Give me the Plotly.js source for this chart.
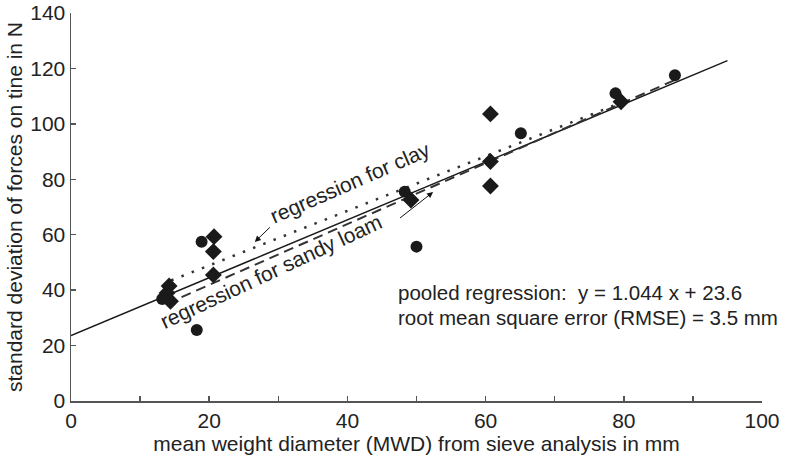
<!DOCTYPE html>
<html>
<head>
<meta charset="utf-8">
<script src="https://cdn.plot.ly/plotly-3.0.1.min.js"></script>
<style>html,body{margin:0;padding:0;background:#fff;}</style>
</head>
<body>
<div id="chart" style="width:796px;height:461px;"></div>
<script>
// Data
const circleX = [13.2, 18.2, 18.9, 48.3, 50.0, 65.1, 78.8, 87.4];
const circleY = [36.8, 25.6, 57.5, 75.5, 55.7, 96.6, 111.0, 117.5];
const diamondX = [14.2, 13.9, 14.4, 20.7, 20.6, 20.6, 49.2, 60.7, 60.7, 60.7, 79.6];
const diamondY = [41.5, 39.0, 36.0, 59.3, 53.9, 45.5, 72.5, 103.6, 86.4, 77.6, 108.0];

// Regression lines (end points)
const pooledX = [0, 95];
const pooledY = [23.6, 122.8];
const clayX = [14.5, 80];
const clayY = [43.5, 108];
const sandyX = [16, 88];
const sandyY = [37.5, 116.5];

const xTicks = [0, 20, 40, 60, 80, 100];
const yTicks = [0, 20, 40, 60, 80, 100, 120, 140];

const FONT = 'Liberation Sans, Arial, Helvetica, sans-serif';
const FS = 21;
const ink = '#1a1a1a';
const txt = '#222';

const traces = [
  {x: pooledX, y: pooledY, mode: 'lines', line: {color: ink, width: 1.5}, hoverinfo: 'skip'},
  {x: clayX, y: clayY, mode: 'lines', line: {color: '#333', width: 2.5, dash: '2.5px,8.5px'}, hoverinfo: 'skip'},
  {x: sandyX, y: sandyY, mode: 'lines', line: {color: '#333', width: 2, dash: '10px,6px'}, hoverinfo: 'skip'},
  {x: circleX, y: circleY, mode: 'markers', marker: {symbol: 'circle', size: 12, color: ink}},
  {x: diamondX, y: diamondY, mode: 'markers', marker: {symbol: 'diamond', size: 13, color: ink}}
];

const layout = {
  width: 796, height: 461,
  margin: {l: 71, r: 34, t: 13, b: 60},
  paper_bgcolor: '#fff', plot_bgcolor: '#fff',
  showlegend: false,
  font: {family: FONT, size: FS, color: txt},
  xaxis: {
    range: [0, 100], tickvals: xTicks, ticktext: xTicks.map(String),
    showline: true, linecolor: '#555', linewidth: 1.5,
    ticks: 'inside', ticklen: 5, tickcolor: '#555', tickwidth: 1.5,
    minor: {dtick: 10, ticks: 'inside', ticklen: 5, tickcolor: '#555', tickwidth: 1.5},
    showgrid: false, zeroline: false,
    tickfont: {family: FONT, size: FS, color: txt},
    title: {text: 'mean weight diameter (MWD) from sieve analysis in mm', font: {family: FONT, size: FS, color: txt}, standoff: 2}
  },
  yaxis: {
    range: [0, 140], tickvals: yTicks, ticktext: yTicks.map(String),
    showline: true, linecolor: '#555', linewidth: 1.5,
    ticks: 'inside', ticklen: 5, tickcolor: '#555', tickwidth: 1.5,
    showgrid: false, zeroline: false,
    tickfont: {family: FONT, size: FS, color: txt},
    title: {text: 'standard deviation of forces on tine in N', font: {family: FONT, size: FS, color: txt}, standoff: 2}
  },
  annotations: [
    {x: 40.4, y: 78.9, xref: 'x', yref: 'y', text: 'regression for clay', showarrow: false, textangle: -23.6,
     font: {family: FONT, size: FS, color: txt}},
    {x: 28.9, y: 46.9, xref: 'x', yref: 'y', text: 'regression for sandy loam', showarrow: false, textangle: -25,
     font: {family: FONT, size: FS, color: txt}},
    {x: 26.6, y: 57.4, ax: 29.0, ay: 63.2, xref: 'x', yref: 'y', axref: 'x', ayref: 'y', text: '', showarrow: true,
     arrowhead: 2, arrowsize: 1.2, arrowwidth: 1, arrowcolor: '#111'},
    {x: 52.4, y: 75.4, ax: 47.4, ay: 65.6, xref: 'x', yref: 'y', axref: 'x', ayref: 'y', text: '', showarrow: true,
     arrowhead: 2, arrowsize: 1.2, arrowwidth: 1, arrowcolor: '#111'},
    {x: 47.2, y: 39.0, xref: 'x', yref: 'y', xanchor: 'left', borderpad: 0, text: 'pooled regression:  y = 1.044 x + 23.6', showarrow: false,
     font: {family: FONT, size: 20.5, color: txt}},
    {x: 47.2, y: 30.3, xref: 'x', yref: 'y', xanchor: 'left', borderpad: 0, text: 'root mean square error (RMSE) = 3.5 mm', showarrow: false,
     font: {family: FONT, size: 20.5, color: txt}}
  ]
};

Plotly.newPlot('chart', traces, layout, {displayModeBar: false, staticPlot: true});
</script>
</body>
</html>
